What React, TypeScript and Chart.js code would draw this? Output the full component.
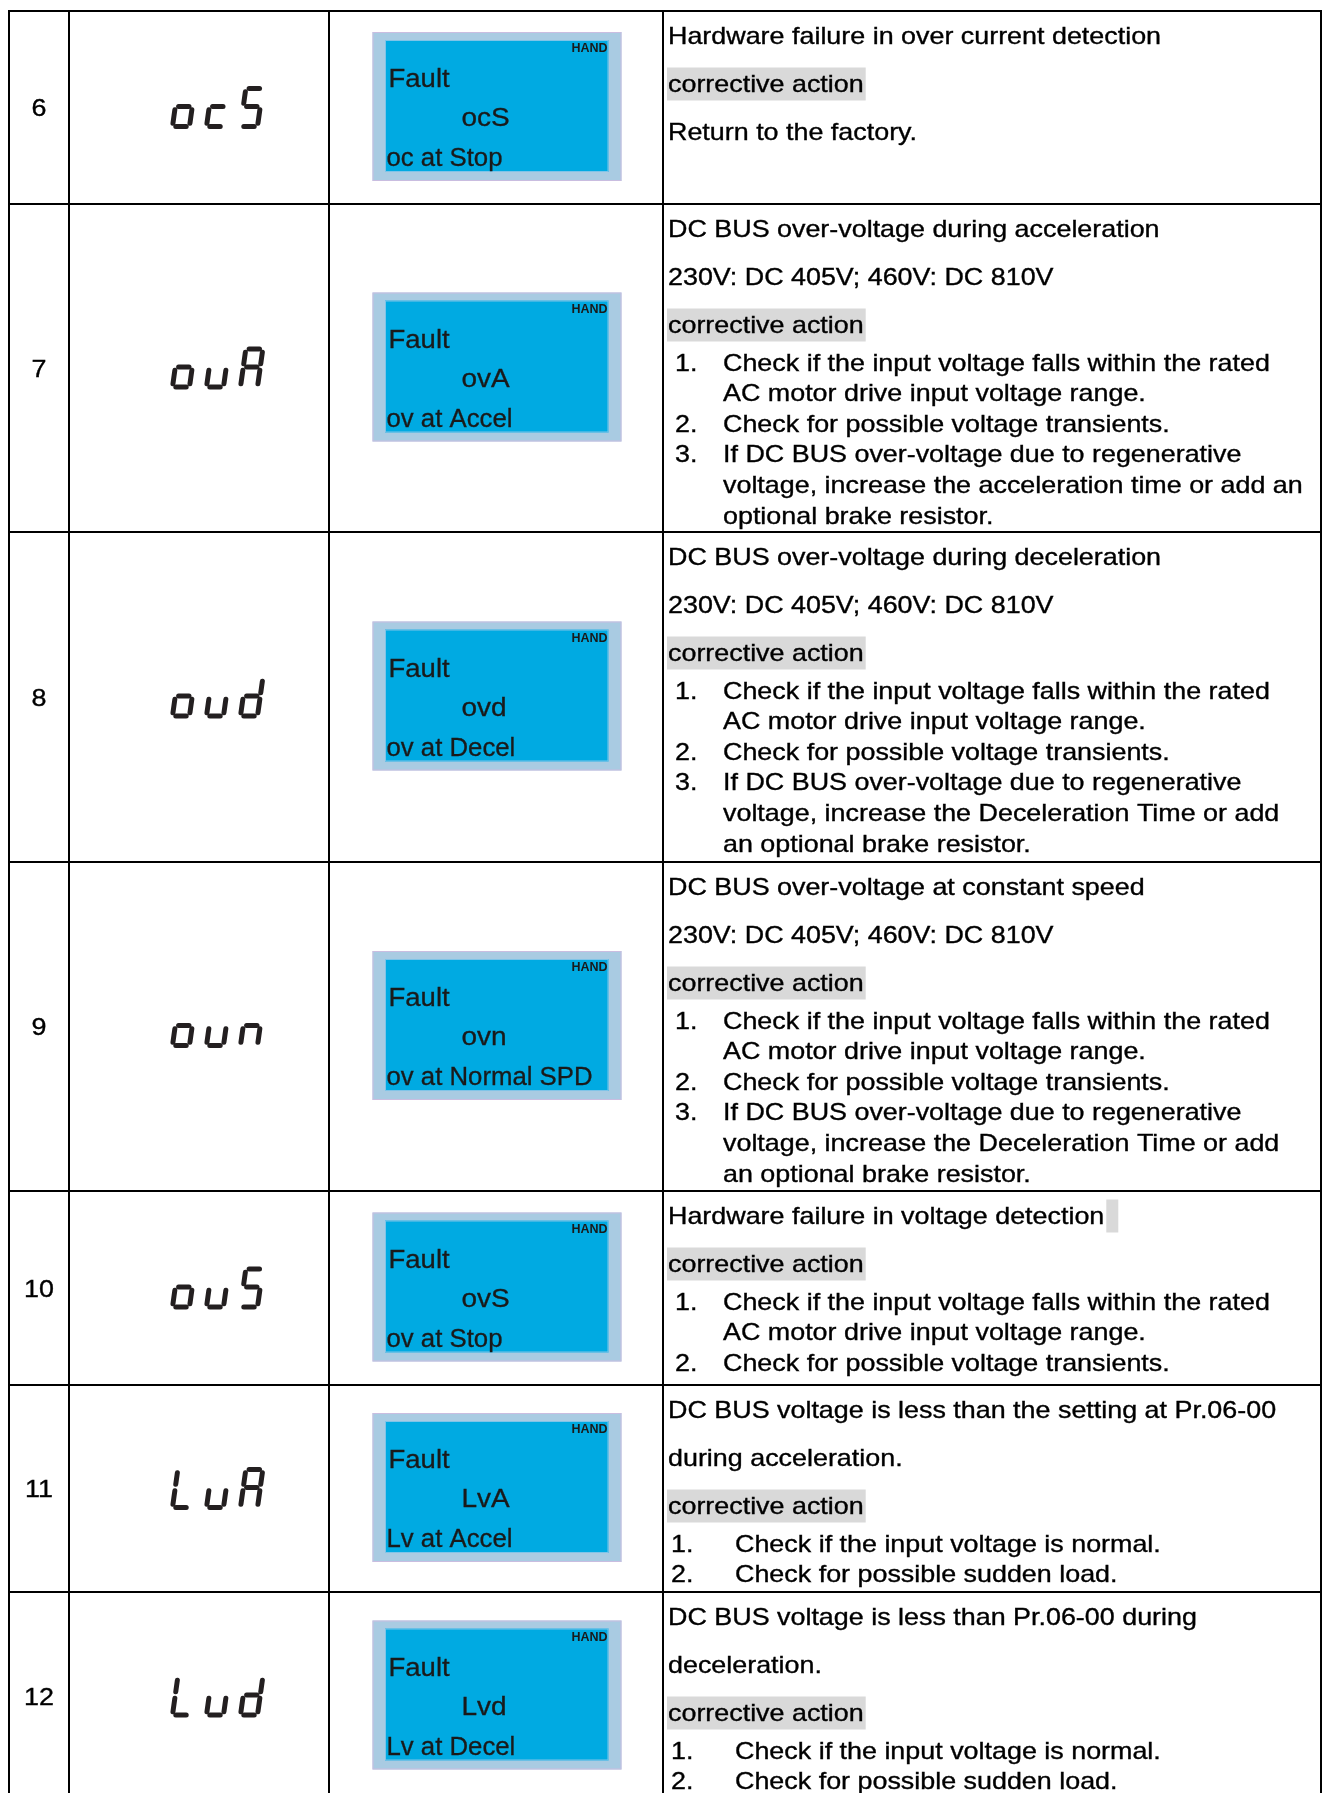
import React, { useEffect, useRef } from "react";
import { Chart, registerables } from "chart.js";

Chart.register(...registerables);

// ---------- data ----------
const faultNumbers = ["6", "7", "8", "9", "10", "11", "12"];
const panelCodes = ["ocS", "ovA", "ovd", "ovn", "ovS", "LvA", "Lvd"];
const lcdTitle = "Fault";
const lcdMode = "HAND";
const lcdCodes = ["ocS", "ovA", "ovd", "ovn", "ovS", "LvA", "Lvd"];
const lcdMessages = [
  "oc at Stop",
  "ov at Accel",
  "ov at Decel",
  "ov at Normal SPD",
  "ov at Stop",
  "Lv at Accel",
  "Lv at Decel",
];
const causeLines: string[][] = [
  ["Hardware failure in over current detection"],
  ["DC BUS over-voltage during acceleration", "230V: DC 405V; 460V: DC 810V"],
  ["DC BUS over-voltage during deceleration", "230V: DC 405V; 460V: DC 810V"],
  ["DC BUS over-voltage at constant speed", "230V: DC 405V; 460V: DC 810V"],
  ["Hardware failure in voltage detection"],
  ["DC BUS voltage is less than the setting at Pr.06-00", "during acceleration."],
  ["DC BUS voltage is less than Pr.06-00 during", "deceleration."],
];
const actionHeading = "corrective action";
const actionPlain = ["Return to the factory.", "", "", "", "", "", ""];
const actionSteps: string[][][] = [
  [],
  [
    ["Check if the input voltage falls within the rated", "AC motor drive input voltage range."],
    ["Check for possible voltage transients."],
    ["If DC BUS over-voltage due to regenerative", "voltage, increase the acceleration time or add an", "optional brake resistor."],
  ],
  [
    ["Check if the input voltage falls within the rated", "AC motor drive input voltage range."],
    ["Check for possible voltage transients."],
    ["If DC BUS over-voltage due to regenerative", "voltage, increase the Deceleration Time or add", "an optional brake resistor."],
  ],
  [
    ["Check if the input voltage falls within the rated", "AC motor drive input voltage range."],
    ["Check for possible voltage transients."],
    ["If DC BUS over-voltage due to regenerative", "voltage, increase the Deceleration Time or add", "an optional brake resistor."],
  ],
  [
    ["Check if the input voltage falls within the rated", "AC motor drive input voltage range."],
    ["Check for possible voltage transients."],
  ],
  [["Check if the input voltage is normal."], ["Check for possible sudden load."]],
  [["Check if the input voltage is normal."], ["Check for possible sudden load."]],
];
const causeMarked = [false, false, false, false, true, false, false];

// ---------- layout (pixels of the page) ----------
const W = 1324;
const H = 1793;
const colEdges = [9, 69, 329, 663, 1321];
const rowEdges = [11, 204, 532, 862, 1191, 1385, 1592, 1800];
const wideIndent = [false, false, false, false, false, true, true];

const FONT = '"Liberation Sans", Arial, Helvetica, sans-serif';
const TEXT_SX = 1.12;

// 7-segment definitions
const SEGS: Record<string, string> = {
  o: "cdeg",
  c: "deg",
  S: "afgcd",
  u: "cde",
  v: "cde",
  A: "abcefg",
  d: "bcdeg",
  n: "ceg",
  L: "def",
};

function drawScaledText(
  ctx: CanvasRenderingContext2D,
  s: string,
  x: number,
  y: number,
  font: string,
  sx: number,
  align: "left" | "center" | "right" = "left",
  weight = 0
) {
  ctx.save();
  ctx.font = font;
  const w = ctx.measureText(s).width * sx;
  let x0 = x;
  if (align === "center") x0 = x - w / 2;
  if (align === "right") x0 = x - w;
  ctx.translate(x0, y);
  ctx.scale(sx, 1);
  ctx.textAlign = "left";
  ctx.textBaseline = "alphabetic";
  ctx.fillText(s, 0, 0);
  if (weight > 0) {
    ctx.strokeStyle = ctx.fillStyle as string;
    ctx.lineWidth = weight;
    ctx.strokeText(s, 0, 0);
  }
  ctx.restore();
  return w;
}

function drawSegChar(ctx: CanvasRenderingContext2D, ch: string, x0: number, M: number) {
  const segs = SEGS[ch] || "";
  const hu = 18,
    hl = 20,
    w = 17,
    s = 0.14,
    gap = 3.3;
  const bottom = M + hl;
  const P = (x: number, y: number): [number, number] => [x0 + x + s * (bottom - y), y];
  const TL = P(0, M - hu),
    TR = P(w, M - hu),
    ML = P(0, M),
    MR = P(w, M),
    BL = P(0, bottom),
    BR = P(w, bottom);
  const map: Record<string, [number, number][]> = {
    a: [TL, TR],
    b: [TR, MR],
    c: [MR, BR],
    d: [BL, BR],
    e: [ML, BL],
    f: [TL, ML],
    g: [ML, MR],
  };
  ctx.save();
  ctx.strokeStyle = "#231f20";
  ctx.lineWidth = 5;
  ctx.lineCap = "round";
  for (const k of segs) {
    const [p, q] = map[k];
    const dx = q[0] - p[0],
      dy = q[1] - p[1];
    const len = Math.hypot(dx, dy);
    const ux = dx / len,
      uy = dy / len;
    ctx.beginPath();
    ctx.moveTo(p[0] + ux * gap, p[1] + uy * gap);
    ctx.lineTo(q[0] - ux * gap, q[1] - uy * gap);
    ctx.stroke();
  }
  ctx.restore();
}

const tablePlugin = {
  id: "faultTable",
  afterDraw(chart: any) {
    const ctx: CanvasRenderingContext2D = chart.ctx;
    const xs = chart.scales.x;
    const ys = chart.scales.y;
    const X = (v: number) => xs.getPixelForValue(v);
    const Y = (v: number) => ys.getPixelForValue(v);

    ctx.save();
    ctx.fillStyle = "#ffffff";
    ctx.fillRect(0, 0, chart.width, chart.height);

    const textFont = `24px ${FONT}`;
    const TW = 0.35;

    for (let r = 0; r < faultNumbers.length; r++) {
      const top = rowEdges[r];
      const bot = rowEdges[r + 1];
      const mid = (top + bot) / 2;

      // number column
      ctx.fillStyle = "#000";
      drawScaledText(ctx, faultNumbers[r], X((colEdges[0] + colEdges[1]) / 2), Y(mid + 8.5), textFont, TEXT_SX, "center", TW);

      // 7-segment code
      const code = panelCodes[r];
      for (let i = 0; i < code.length; i++) {
        drawSegChar(ctx, code[i], X(172.5 + i * 34), Y(mid - 1));
      }

      // LCD panel
      const lcdCx = (colEdges[2] + colEdges[3]) / 2 + 1;
      const oL = lcdCx - 124.5,
        oR = lcdCx + 124.5;
      const oT = mid - 75.5,
        oB = mid + 73.5;
      ctx.fillStyle = "#a9cbe2";
      ctx.fillRect(X(oL), Y(oT), X(oR) - X(oL), Y(oB) - Y(oT));
      ctx.strokeStyle = "#c9bde0";
      ctx.lineWidth = 1;
      ctx.strokeRect(X(oL) + 0.5, Y(oT) + 0.5, X(oR) - X(oL) - 1, Y(oB) - Y(oT) - 1);
      ctx.fillStyle = "#00aae2";
      ctx.fillRect(X(oL + 12.5), Y(oT + 8), X(oR - 13) - X(oL + 12.5), Y(oB - 9) - Y(oT + 8));
      ctx.strokeStyle = "#7fc4e8";
      ctx.strokeRect(X(oL + 12.5) + 0.5, Y(oT + 8) + 0.5, X(oR - 13) - X(oL + 12.5) - 1, Y(oB - 9) - Y(oT + 8) - 1);

      ctx.fillStyle = "#1a1a1a";
      drawScaledText(ctx, lcdMode, X(oR - 14), Y(oT + 20), `bold 12.5px ${FONT}`, 1.0, "right");
      drawScaledText(ctx, lcdTitle, X(oL + 16), Y(oT + 55), `25px ${FONT}`, 1.1, "left", 0.3);
      drawScaledText(ctx, lcdCodes[r], X(oL + 89), Y(oT + 94), `25px ${FONT}`, 1.12, "left", 0.3);
      drawScaledText(ctx, lcdMessages[r], X(oL + 14), Y(oT + 134), `25px ${FONT}`, 1.03, "left", 0.3);

      // description column
      const tx = colEdges[3] + 5;
      let y = top + 32.5;
      ctx.fillStyle = "#000";
      causeLines[r].forEach((line, i) => {
        if (i > 0) y += 48;
        const w = drawScaledText(ctx, line, X(tx), Y(y), textFont, TEXT_SX, "left", TW);
        if (causeMarked[r] && i === causeLines[r].length - 1) {
          ctx.fillStyle = "#d9d9d9";
          ctx.fillRect(X(tx + w + 2), Y(y - 24), 12, 33);
          ctx.fillStyle = "#000";
        }
      });
      // heading with highlight
      y += 48;
      ctx.font = textFont;
      const hw = ctx.measureText(actionHeading).width * TEXT_SX;
      ctx.fillStyle = "#d9d9d9";
      ctx.fillRect(X(tx - 1), Y(y - 24), hw + 3, Y(y + 9) - Y(y - 24));
      ctx.fillStyle = "#000";
      drawScaledText(ctx, actionHeading, X(tx), Y(y), textFont, TEXT_SX, "left", TW);

      if (actionPlain[r]) {
        y += 48;
        drawScaledText(ctx, actionPlain[r], X(tx), Y(y), textFont, TEXT_SX, "left", TW);
      }
      const numX = wideIndent[r] ? 671 : 675;
      const bodyX = wideIndent[r] ? 735 : 723;
      let first = true;
      actionSteps[r].forEach((item, k) => {
        item.forEach((line, j) => {
          y += first ? 38 : 30.6;
          first = false;
          if (j === 0) drawScaledText(ctx, `${k + 1}.`, X(numX), Y(y), textFont, TEXT_SX, "left", TW);
          drawScaledText(ctx, line, X(bodyX), Y(y), textFont, TEXT_SX, "left", TW);
        });
      });
    }

    // grid lines
    ctx.strokeStyle = "#000";
    ctx.lineWidth = 2;
    ctx.beginPath();
    for (const cx of colEdges) {
      ctx.moveTo(X(cx), Y(rowEdges[0] - 1));
      ctx.lineTo(X(cx), Y(rowEdges[rowEdges.length - 1]));
    }
    for (let i = 0; i < rowEdges.length - 1; i++) {
      ctx.moveTo(X(colEdges[0] - 1), Y(rowEdges[i]));
      ctx.lineTo(X(colEdges[colEdges.length - 1] + 1), Y(rowEdges[i]));
    }
    ctx.stroke();
    ctx.restore();
  },
};

export default function App() {
  const ref = useRef<HTMLCanvasElement | null>(null);
  useEffect(() => {
    if (!ref.current) return;
    const chart = new Chart(ref.current, {
      type: "scatter",
      data: { datasets: [{ data: [], pointRadius: 0 }] },
      options: {
        animation: false,
        responsive: false,
        devicePixelRatio: 1,
        layout: { padding: 0 },
        plugins: { legend: { display: false }, tooltip: { enabled: false } },
        scales: {
          x: { type: "linear", min: 0, max: W, display: false },
          y: { type: "linear", min: 0, max: H, reverse: true, display: false },
        },
      },
      plugins: [tablePlugin],
    });
    return () => chart.destroy();
  }, []);
  return (
    <canvas
      ref={ref}
      width={W}
      height={H}
      style={{ position: "absolute", left: 0, top: 0, width: W, height: H, display: "block" }}
    />
  );
}
